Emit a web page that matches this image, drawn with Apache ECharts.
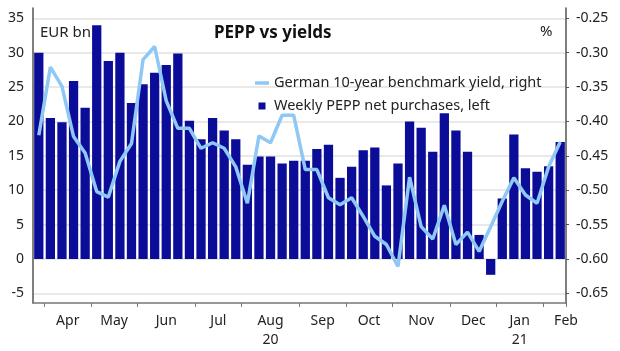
<!DOCTYPE html>
<html>
<head>
<meta charset="utf-8">
<title>PEPP vs yields</title>
<style>
  html, body { margin: 0; padding: 0; background: #fff; }
  #main { width: 620px; height: 351px; }
</style>
</head>
<body>
<div id="main"></div>
<script src="https://cdn.jsdelivr.net/npm/echarts@6/dist/echarts.min.js"></script>
<script>
// weekly observations (Mondays)
var weeks = [
  '2020-03-30', '2020-04-06', '2020-04-13', '2020-04-20', '2020-04-27',
  '2020-05-04', '2020-05-11', '2020-05-18', '2020-05-25',
  '2020-06-01', '2020-06-08', '2020-06-15', '2020-06-22', '2020-06-29',
  '2020-07-06', '2020-07-13', '2020-07-20', '2020-07-27',
  '2020-08-03', '2020-08-10', '2020-08-17', '2020-08-24', '2020-08-31',
  '2020-09-07', '2020-09-14', '2020-09-21', '2020-09-28',
  '2020-10-05', '2020-10-12', '2020-10-19', '2020-10-26',
  '2020-11-02', '2020-11-09', '2020-11-16', '2020-11-23', '2020-11-30',
  '2020-12-07', '2020-12-14', '2020-12-21', '2020-12-28',
  '2021-01-04', '2021-01-11', '2021-01-18', '2021-01-25',
  '2021-02-01', '2021-02-08'
];

// Weekly PEPP net purchases, EUR bn (left axis)
var purchases = [
  30.0, 20.5, 19.9, 25.9, 22.0,
  34.0, 28.8, 30.0, 22.7,
  25.4, 27.1, 28.2, 29.9, 20.1,
  17.4, 20.5, 18.7, 17.4,
  13.7, 14.9, 14.9, 13.9, 14.3,
  14.3, 16.0, 16.6, 11.8,
  13.4, 15.8, 16.2, 10.7,
  13.9, 20.0, 19.1, 15.6, 21.2,
  18.7, 15.6, 3.5, -2.3,
  8.8, 18.1, 13.2, 12.7,
  13.5, 17.0
];

// German 10-year benchmark yield, % (right axis)
var yields = [
  -0.420, -0.321, -0.349, -0.422, -0.446,
  -0.502, -0.510, -0.458, -0.432,
  -0.310, -0.291, -0.370, -0.410, -0.410,
  -0.439, -0.431, -0.439, -0.466,
  -0.519, -0.421, -0.431, -0.391, -0.391,
  -0.470, -0.470, -0.511, -0.521,
  -0.511, -0.538, -0.567, -0.579,
  -0.611, -0.481, -0.553, -0.571, -0.522,
  -0.579, -0.561, -0.589, -0.553,
  -0.516, -0.482, -0.507, -0.519,
  -0.466, -0.430
];

var monthLabels = ['Apr', 'May', 'Jun', 'Jul', 'Aug\n20', 'Sep', 'Oct', 'Nov', 'Dec', 'Jan\n21', 'Feb'];
var leftTicks = [-5, 0, 5, 10, 15, 20, 25, 30, 35];
var rightTicks = [-0.65, -0.60, -0.55, -0.50, -0.45, -0.40, -0.35, -0.30, -0.25];

var lineName = 'German 10-year benchmark yield, right';
var barName = 'Weekly PEPP net purchases, left';

// month label sits in the middle of that month's weeks
var monthPos = [];
weeks.forEach(function (w, i) {
  var d = new Date(w + 'T00:00:00');
  if (d.getDate() <= 7) {
    var days = new Date(d.getFullYear(), d.getMonth() + 1, 0).getDate();
    var n = Math.floor((days - d.getDate()) / 7) + 1;
    monthPos.push(i + n / 2);
  }
});

var font = 'Noto Sans';
var myChart = echarts.init(document.getElementById('main'));

var option = {
  animation: false,
  textStyle: { fontFamily: font },
  title: [
    {
      text: 'PEPP vs yields', left: 214, top: 25, padding: 0,
      textStyle: { fontFamily: font, fontSize: 17, fontWeight: 'bold', color: '#111' }
    },
    {
      // sits behind the bars, as in the original
      text: 'EUR bn', left: 40, top: 25, padding: 0, z: 0,
      textStyle: { fontFamily: font, fontSize: 15, fontWeight: 'normal', color: '#222' }
    },
    {
      text: '%', left: 540, top: 24, padding: 0,
      textStyle: { fontFamily: font, fontSize: 15, fontWeight: 'normal', color: '#222' }
    }
  ],
  legend: {
    orient: 'vertical',
    left: 255,
    top: 75,
    padding: 0,
    itemWidth: 14,
    itemHeight: 7,
    itemGap: 7,
    textStyle: { fontFamily: font, fontSize: 14.5, color: '#222', lineHeight: 16 },
    data: [
      { name: lineName, icon: 'path://M0,0H14V3.5H0Z' },
      { name: barName, icon: 'path://M0,0H1V1H0Z' }
    ]
  },
  grid: { left: 33, right: 54, top: 8, bottom: 48 },
  xAxis: [
    {
      type: 'category',
      data: weeks,
      position: 'bottom',
      axisLine: { onZero: false, lineStyle: { color: '#777', width: 1.5 } },
      axisTick: {
        show: true, length: 4, lineStyle: { color: '#777' },
        interval: function (index, value) {
          return index > 0 && new Date(value + 'T00:00:00').getDate() <= 7;
        }
      },
      axisLabel: { show: false },
      splitLine: { show: false }
    },
    {
      type: 'value',
      min: 0,
      max: weeks.length,
      position: 'bottom',
      axisLine: { show: false, onZero: false },
      axisTick: { show: false, customValues: monthPos },
      splitLine: { show: false },
      axisLabel: {
        customValues: monthPos,
        margin: 9,
        fontFamily: font, fontSize: 14, color: '#222', lineHeight: 19,
        showMinLabel: true, showMaxLabel: true,
        formatter: function (v) {
          var k = monthPos.indexOf(v);
          return k >= 0 ? monthLabels[k] : '';
        }
      }
    }
  ],
  yAxis: [
    {
      type: 'value',
      position: 'left',
      min: -6.4,
      max: 36.5,
      axisLine: { show: true, onZero: false, lineStyle: { color: '#555', width: 1.5 } },
      axisTick: { show: false, customValues: leftTicks },
      axisLabel: {
        customValues: leftTicks, margin: 9,
        fontFamily: font, fontSize: 14, color: '#222'
      },
      splitLine: { show: true, lineStyle: { color: '#e2e2e2', width: 1.5 } }
    },
    {
      type: 'value',
      position: 'right',
      min: -0.664,
      max: -0.235,
      axisLine: { show: true, onZero: false, lineStyle: { color: '#555', width: 1.5 } },
      axisTick: { show: true, length: 3, customValues: rightTicks, lineStyle: { color: '#555' } },
      axisLabel: {
        customValues: rightTicks, margin: 10,
        fontFamily: font, fontSize: 14, color: '#222',
        formatter: function (v) { return v.toFixed(2); }
      },
      splitLine: { show: false }
    }
  ],
  series: [
    {
      name: barName,
      type: 'bar',
      xAxisIndex: 0,
      yAxisIndex: 0,
      data: purchases,
      barCategoryGap: '20%',
      itemStyle: { color: '#0b0c98' }
    },
    {
      name: lineName,
      type: 'line',
      xAxisIndex: 0,
      yAxisIndex: 1,
      data: yields,
      showSymbol: false,
      symbol: 'none',
      lineStyle: { color: '#8fc8f4', width: 3.5 },
      itemStyle: { color: '#8fc8f4' }
    }
  ]
};

myChart.setOption(option);
</script>
</body>
</html>
